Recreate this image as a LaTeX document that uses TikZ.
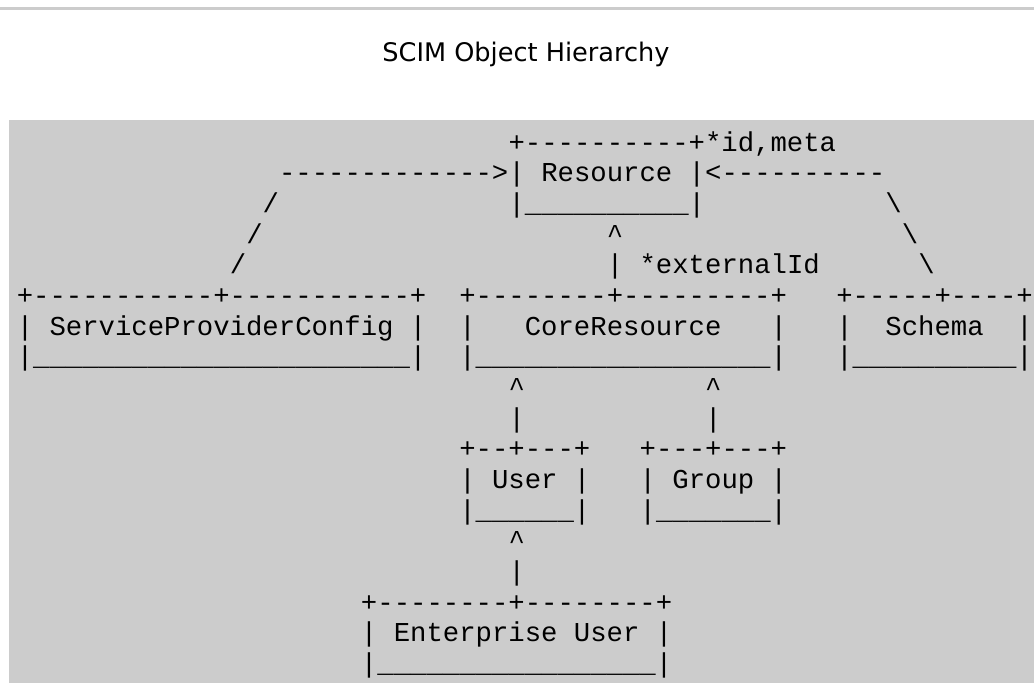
\documentclass[tikz,border=0pt]{standalone}
\usepackage{fontspec}
\setmainfont{DejaVu Sans}
\newfontfamily\asciifont{Liberation Mono}[Ligatures=TeXOff]
\ExplSyntaxOn
\NewDocumentCommand\rpt{mm}{\prg_replicate:nn{#1}{#2}}
\ExplSyntaxOff
\definecolor{panelgray}{HTML}{CCCCCC}
\tikzset{
  ascii/.style={font=\asciifont\fontsize{27.3}{30}\selectfont, anchor=base west,
                inner sep=0pt, outer sep=0pt, text=black},
  heading/.style={font=\fontsize{25.6}{30}\selectfont, anchor=base,
                  inner sep=0pt, text=black},
}
\begin{document}
\begin{tikzpicture}[x=1pt,y=-1pt]
\useasboundingbox (0,0) rectangle (1034,683);
% rule above the heading and the panel holding the chart
\fill[panelgray] (0,6.7) rectangle (1034,10);
\fill[panelgray] (9,119.5) rectangle (1034,683);
\node[heading] (title) at (526,61.5) {SCIM Object Hierarchy};

% character grid: one unit per column, one unit per text row
\begin{scope}[shift={(16.8pt,-151pt)}, x=16.39pt, y=-30.67pt]
  % Resource
  \node[ascii] (resTop) at (30,0) {+\rpt{10}{-}+*id,meta};
  \node[ascii] (arrL)   at (16,1) {\rpt{13}{-}>};
  \node[ascii] (resMid) at (30,1) {| Resource |};
  \node[ascii] (arrR)   at (42,1) {<\rpt{10}{-}};
  \node[ascii] (slA)    at (15,2) {/};
  \node[ascii] (resBot) at (30,2) {|\rpt{10}{\_}|};
  \node[ascii] (bsA)    at (53,2) {\textbackslash};
  \node[ascii] (slB)    at (14,3) {/};
  \node[ascii] (upA)    at (36,3) {\textasciicircum};
  \node[ascii] (bsB)    at (54,3) {\textbackslash};
  \node[ascii] (slC)    at (13,4) {/};
  \node[ascii] (stemA)  at (36,4) {| *externalId};
  \node[ascii] (bsC)    at (55,4) {\textbackslash};
  % ServiceProviderConfig, CoreResource, Schema
  \node[ascii] (spcTop)  at (0,5)  {+\rpt{11}{-}+\rpt{11}{-}+};
  \node[ascii] (coreTop) at (27,5) {+\rpt{8}{-}+\rpt{9}{-}+};
  \node[ascii] (schTop)  at (50,5) {+\rpt{5}{-}+\rpt{4}{-}+};
  \node[ascii] (spcMid)  at (0,6)  {| ServiceProviderConfig |};
  \node[ascii] (coreMid) at (27,6) {|~~~CoreResource~~~|};
  \node[ascii] (schMid)  at (50,6) {|~~Schema~~|};
  \node[ascii] (spcBot)  at (0,7)  {|\rpt{23}{\_}|};
  \node[ascii] (coreBot) at (27,7) {|\rpt{18}{\_}|};
  \node[ascii] (schBot)  at (50,7) {|\rpt{10}{\_}|};
  % links from User and Group
  \node[ascii] (upB)   at (30,8) {\textasciicircum};
  \node[ascii] (upC)   at (42,8) {\textasciicircum};
  \node[ascii] (stemB) at (30,9) {|};
  \node[ascii] (stemC) at (42,9) {|};
  % User, Group
  \node[ascii] (userTop) at (27,10) {+--+---+};
  \node[ascii] (grpTop)  at (38,10) {+---+---+};
  \node[ascii] (userMid) at (27,11) {| User |};
  \node[ascii] (grpMid)  at (38,11) {| Group |};
  \node[ascii] (userBot) at (27,12) {|\rpt{6}{\_}|};
  \node[ascii] (grpBot)  at (38,12) {|\rpt{7}{\_}|};
  % Enterprise User
  \node[ascii] (upD)    at (30,13) {\textasciicircum};
  \node[ascii] (stemD)  at (30,14) {|};
  \node[ascii] (entTop) at (21,15) {+\rpt{8}{-}+\rpt{8}{-}+};
  \node[ascii] (entMid) at (21,16) {| Enterprise User |};
  \node[ascii] (entBot) at (21,17) {|\rpt{17}{\_}|};
\end{scope}
\end{tikzpicture}
\end{document}
